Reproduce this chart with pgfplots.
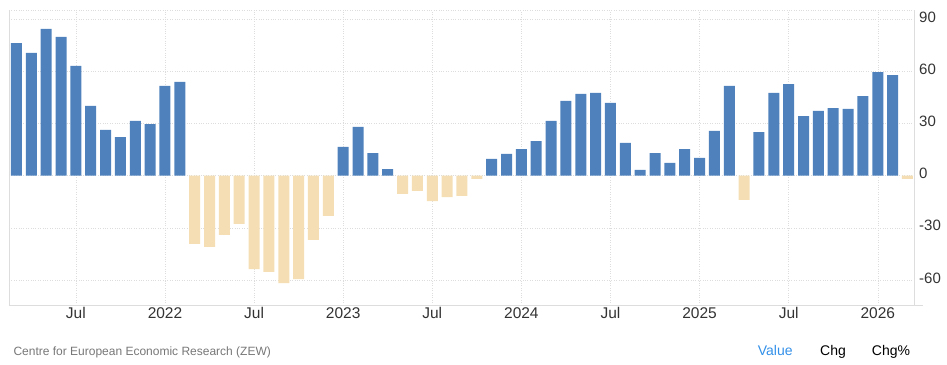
\documentclass[border=0pt]{standalone}
\usepackage{pgfplots}
\pgfplotsset{compat=1.18}
\usepackage{fontspec}
\setmainfont{Liberation Sans}
\definecolor{barblue}{HTML}{4F81BD}
\definecolor{bartan}{HTML}{F5DEB3}
\definecolor{ticktxt}{HTML}{333333}
\definecolor{gridc}{HTML}{DDDDDD}
\definecolor{axisc}{HTML}{DDDDDD}
\definecolor{srctxt}{HTML}{777777}
\definecolor{valblue}{HTML}{3390E8}
\begin{document}
\begin{tikzpicture}
\useasboundingbox (0,0) rectangle (947pt,364pt);
\begin{axis}[
  at={(9pt,59pt)}, anchor=south west,
  scale only axis, width=905pt, height=295pt,
  xmin=-0.505, xmax=60.44,
  ymin=-74.4, ymax=95.3,
  ybar, bar width=11pt, bar shift=0pt,
  axis line style={axisc},
  axis x line*=bottom, axis y line*=right,
  xtick={4,10,16,22,28,34,40,46,52,58},
  xticklabels={Jul,2022,Jul,2023,Jul,2024,Jul,2025,Jul,2026},
  ytick={-60,-30,0,30,60,90},
  yticklabel pos=right,
  major tick length=0pt,
  xmajorgrids, ymajorgrids,
  major grid style={gridc, dotted},
  /pgf/number format/assume math mode=true,
  x tick label style={font=\fontsize{15.5}{18}\selectfont, text=ticktxt, inner sep=0pt, anchor=north, yshift=-2.5pt},
  y tick label style={font=\fontsize{15}{18}\selectfont, text=ticktxt, inner sep=0pt, anchor=west, xshift=5pt, yshift=2pt},
  clip=false,
]
\addplot[draw=none, fill=barblue] coordinates {
(0,76.3) (1,70.6) (2,84.4) (3,79.8) (4,63.1) (5,40.1) (6,26.3) (7,22.2) (8,31.5) (9,29.7) (10,51.6) (11,53.9)
(22,16.5) (23,28.0) (24,13.0) (25,3.8)
(32,9.6) (33,12.5) (34,15.3) (35,19.9) (36,31.5) (37,43.0) (38,47.0) (39,47.6) (40,41.8) (41,18.8) (42,3.3) (43,13.0) (44,7.3) (45,15.3) (46,10.2) (47,25.7) (48,51.6)
(50,25.1) (51,47.6) (52,52.7) (53,34.3) (54,37.2) (55,38.9) (56,38.4) (57,45.8) (58,59.6) (59,57.9)
};
\addplot[draw=none, fill=bartan] coordinates {
(12,-39.3) (13,-41.0) (14,-34.1) (15,-27.8) (16,-53.7) (17,-55.4) (18,-61.8) (19,-59.5) (20,-37.0) (21,-23.2)
(26,-10.5) (27,-8.8) (28,-14.6) (29,-12.3) (30,-11.7) (31,-1.9)
(49,-14.0)
(60,-1.9)
};
\draw[axisc] (rel axis cs:0,0) -- (rel axis cs:0,1);
\draw[gridc, dotted] (rel axis cs:0,1) -- (rel axis cs:1,1);
\draw[axisc] (rel axis cs:1,0) -- ([xshift=9pt]rel axis cs:1,0);
\end{axis}
\node[anchor=base west, inner sep=0pt, text=srctxt, font=\fontsize{12}{15}\selectfont] at (13.3pt,8.5pt) {Centre for European Economic Research (ZEW)};
\node[anchor=base west, inner sep=0pt, text=valblue, font=\fontsize{14}{16}\selectfont] at (757.7pt,8.5pt) {Value};
\node[anchor=base west, inner sep=0pt, text=black, font=\fontsize{14}{16}\selectfont] at (820pt,8.5pt) {Chg};
\node[anchor=base west, inner sep=0pt, text=black, font=\fontsize{14}{16}\selectfont] at (871.7pt,8.5pt) {Chg\%};
\end{tikzpicture}
\end{document}
